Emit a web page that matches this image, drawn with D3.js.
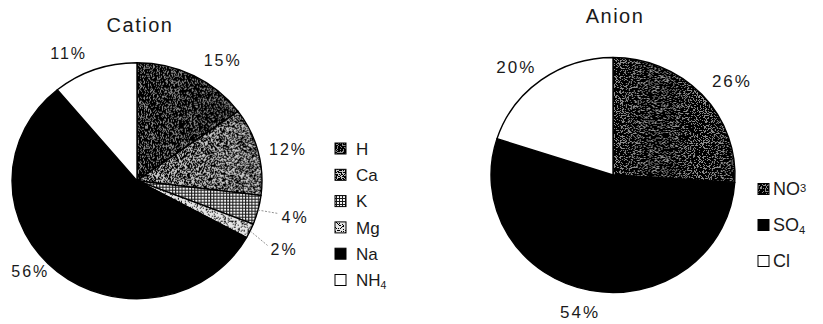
<!DOCTYPE html>
<html>
<head>
<meta charset="utf-8">
<script src="https://cdn.jsdelivr.net/npm/d3@7"></script>
<style>
  html, body { margin: 0; padding: 0; background: #fff; }
  svg { display: block; }
  text { font-family: "Liberation Sans", Arial, sans-serif; fill: #1a1a1a; }
</style>
</head>
<body>
<svg id="chart" width="823" height="324"></svg>
<script>
// ---- data ----
const cationNames  = ["H", "Ca", "K", "Mg", "Na", "NH4"];
const cationValues = [15, 12, 4, 2, 56, 11];
const cationLegend = [["H", ""], ["Ca", ""], ["K", ""], ["Mg", ""], ["Na", ""], ["NH", "4"]];

const anionNames  = ["NO3", "SO4", "Cl"];
const anionValues = [26, 54, 20];
const anionLegend = [["NO", "3"], ["SO", "4"], ["Cl", ""]];

const svg = d3.select("#chart");
const defs = svg.append("defs");

// ---- grainy fills: a grey ground with black speckle of a given density ----
function grain(id, ground, cut, seed) {
  const steps = 20;
  const table = d3.range(steps).map(i => (i >= cut ? 1 : 0)).join(" ");
  const f = defs.append("filter").attr("id", "f-" + id)
    .attr("x", 0).attr("y", 0).attr("width", 1).attr("height", 1)
    .attr("filterUnits", "objectBoundingBox");
  f.append("feTurbulence").attr("type", "fractalNoise")
    .attr("baseFrequency", 1.4).attr("numOctaves", 1).attr("seed", seed);
  f.append("feColorMatrix").attr("type", "matrix")
    .attr("values", "0 0 0 0 0  0 0 0 0 0  0 0 0 0 0  1 0 0 0 0");
  f.append("feComponentTransfer").append("feFuncA")
    .attr("type", "discrete").attr("tableValues", table);
  const p = defs.append("pattern").attr("id", "tex-" + id)
    .attr("patternUnits", "userSpaceOnUse").attr("width", 80).attr("height", 80);
  p.append("rect").attr("width", 80).attr("height", 80).attr("fill", ground);
  p.append("rect").attr("width", 80).attr("height", 80).attr("fill", "#000")
    .attr("filter", `url(#f-${id})`);
}
grain("dark", "#8c8c8c", 9, 4);
grain("medium", "#c4c4c4", 10, 7);
grain("light", "#e4e4e4", 12, 11);

// cross-hatched grid
{
  const p = defs.append("pattern").attr("id", "tex-hatch")
    .attr("patternUnits", "userSpaceOnUse").attr("width", 3).attr("height", 3);
  p.append("rect").attr("width", 3).attr("height", 3).attr("fill", "#f4f4f4");
  p.append("rect").attr("width", 3).attr("height", 1).attr("fill", "#1a1a1a");
  p.append("rect").attr("width", 1).attr("height", 3).attr("fill", "#1a1a1a");
}

const cationFill = d3.scaleOrdinal().domain(cationNames)
  .range(["url(#tex-dark)", "url(#tex-medium)", "url(#tex-hatch)", "url(#tex-light)", "#000", "#fff"]);
const anionFill = d3.scaleOrdinal().domain(anionNames)
  .range(["url(#tex-dark)", "#000", "#fff"]);

// ---- one pie with title, percentage labels and legend ----
function drawPie(cfg) {
  const data = cfg.names.map((n, i) => ({ name: n, value: cfg.values[i] }));
  const slices = d3.pie().value(d => d.value).sort(null)(data);
  const arc = d3.arc().innerRadius(0).outerRadius(cfg.ry);

  const g = svg.append("g")
    .attr("transform", `translate(${cfg.cx},${cfg.cy}) scale(${cfg.rx / cfg.ry},1)`);
  g.selectAll("path").data(slices).join("path")
    .attr("d", arc)
    .attr("fill", d => cfg.fill(d.data.name))
    .attr("stroke", "#000")
    .attr("stroke-width", 1.4)
    .attr("stroke-linejoin", "round")
    .attr("vector-effect", "non-scaling-stroke");

  // point on the rim at the middle of a slice
  const rim = d => {
    const a = (d.startAngle + d.endAngle) / 2;
    return [cfg.cx + cfg.rx * Math.sin(a), cfg.cy - cfg.ry * Math.cos(a)];
  };

  slices.forEach(d => {
    const [ex, ey] = rim(d);
    const nudge = cfg.labelNudge[d.data.name];
    const lx = ex + nudge[0], ly = ey + nudge[1];
    const t = svg.append("text")
      .attr("x", lx).attr("y", ly).attr("dy", "0.36em")
      .attr("text-anchor", "middle")
      .style("font-size", cfg.labelSize + "px")
      .style("letter-spacing", "2px")
      .text(d.data.value + "%");
    if (cfg.leaders.includes(d.data.name)) {
      const b = t.node().getBBox();
      svg.insert("line", "text")
        .attr("x1", ex).attr("y1", ey)
        .attr("x2", b.x - 3).attr("y2", ly - 3.5)
        .attr("stroke", "#777").attr("stroke-width", 0.8)
        .attr("stroke-dasharray", "2,1.5");
    }
  });

  svg.append("text")
    .attr("x", cfg.titleX).attr("y", cfg.titleY)
    .attr("text-anchor", "middle")
    .style("font-size", "20px")
    .style("letter-spacing", "1.5px")
    .text(cfg.title);

  const lg = svg.append("g");
  cfg.legend.forEach((lab, i) => {
    const y = cfg.legendY + i * cfg.legendStep;
    lg.append("rect")
      .attr("x", cfg.legendX).attr("y", y - 5.5)
      .attr("width", 11).attr("height", 11)
      .attr("fill", cfg.fill(cfg.names[i]))
      .attr("stroke", "#000").attr("stroke-width", 1);
    const t = lg.append("text")
      .attr("x", cfg.legendX + cfg.legendGap).attr("y", y).attr("dy", "0.36em")
      .style("font-size", cfg.legendSize + "px")
      .text(lab[0]);
    if (lab[1]) {
      t.append("tspan")
        .attr("dy", cfg.subShift[i])
        .style("font-size", (cfg.legendSize * 0.62) + "px")
        .text(lab[1]);
    }
  });
}

drawPie({
  title: "Cation", titleX: 140, titleY: 32,
  names: cationNames, values: cationValues, legend: cationLegend, fill: cationFill,
  cx: 137, cy: 180.7, rx: 125, ry: 118,
  labelSize: 16,
  labelNudge: { H: [29, -15], Ca: [30, -2], K: [37, 7], Mg: [34, 18], Na: [-27, 0], NH4: [-26, -16] },
  leaders: ["K", "Mg"],
  legendX: 335, legendY: 148.5, legendStep: 26.3, legendGap: 21, legendSize: 17,
  subShift: [0, 0, 0, 0, 0, "0.25em"]
});

drawPie({
  title: "Anion", titleX: 615, titleY: 23,
  names: anionNames, values: anionValues, legend: anionLegend, fill: anionFill,
  cx: 613, cy: 175, rx: 122, ry: 117.5,
  labelSize: 17,
  labelNudge: { NO3: [30, -14], SO4: [-10, 21], Cl: [-25, -13] },
  leaders: [],
  legendX: 758, legendY: 189, legendStep: 36, legendGap: 15, legendSize: 18,
  subShift: ["-0.3em", "0.25em", 0]
});
</script>
</body>
</html>
